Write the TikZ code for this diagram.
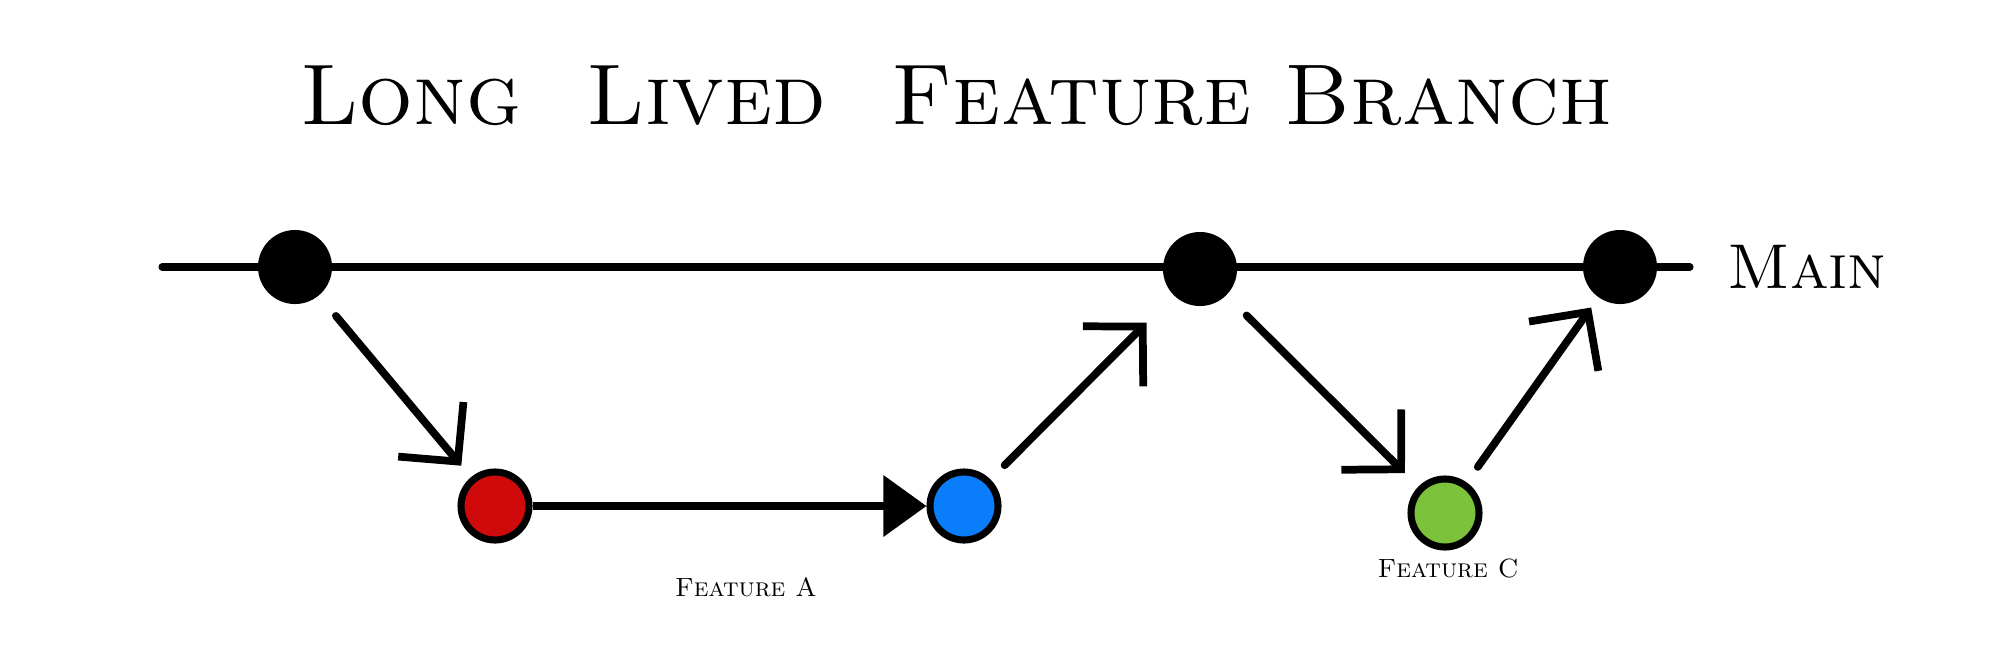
\documentclass[tikz,border=0pt]{standalone}
\usepackage{tikz}
\usetikzlibrary{arrows.meta, positioning}
\definecolor{featred}{RGB}{208,10,10}
\definecolor{featblue}{RGB}{10,125,250}
\definecolor{featgreen}{RGB}{124,194,58}

\begin{document}
\begin{tikzpicture}[x=0.01cm, y=-0.01cm,
    commit/.style={circle, draw=black, line width=2pt, minimum size=0.68cm, inner sep=0pt},
    maincommit/.style={circle, fill=black, minimum size=0.74cm, inner sep=0pt},
    flow/.style={line width=2.2pt, line cap=round, -{Straight Barb[length=4.2mm, width=8.5mm, line width=2.2pt]}},
    merge/.style={line width=2pt, -{Triangle[length=4.3mm, width=6mm]}},
    lbl/.style={font=\scshape}]
  \useasboundingbox (0,0) rectangle (2000,660);
  % title
  \node[lbl, font=\fontsize{24.5}{30}\selectfont\scshape] (title) at (956,96) {Long \ Lived \ Feature Branch};
  % main branch, commits at x = 295, 1200, 1620 (px)
  \coordinate (mstart) at (162,267);
  \coordinate (mend) at (1690,267);
  \draw[line width=2pt, line cap=round] (mstart) -- (mend);
  \node[maincommit] (m1) at (295,267) {};
  \node[maincommit] (m2) at (1200,269) {};
  \node[maincommit] (m3) at (1620,267) {};
  \node[lbl, font=\fontsize{18}{22}\selectfont\scshape, right=0.25cm of mend] (mainlbl) {Main};
  % feature branches
  \node[commit, fill=featred] (fa1) at (495,506) {};
  \node[commit, fill=featblue] (fa2) at (964,506) {};
  \node[commit, fill=featgreen] (fc1) at (1445,513) {};
  \node[lbl, font=\fontsize{7.5}{9}\selectfont\scshape] (falbl) at (746,587) {Feature A};
  \node[lbl, font=\fontsize{7.5}{9}\selectfont\scshape] (fclbl) at (1448,568) {Feature C};
  % branch off / merge back
  \draw[flow, shorten <=0.26cm, shorten >=0.15cm] (m1) -- (fa1);
  \draw[merge] (fa1) -- (fa2);
  \draw[flow, shorten <=0.2cm, shorten >=0.38cm] (fa2) -- (m2);
  \draw[flow, shorten <=0.28cm, shorten >=0.19cm] (m2) -- (fc1);
  \draw[flow, shorten <=0.19cm, shorten >=0.12cm] (fc1) -- (m3);
\end{tikzpicture}
\end{document}
